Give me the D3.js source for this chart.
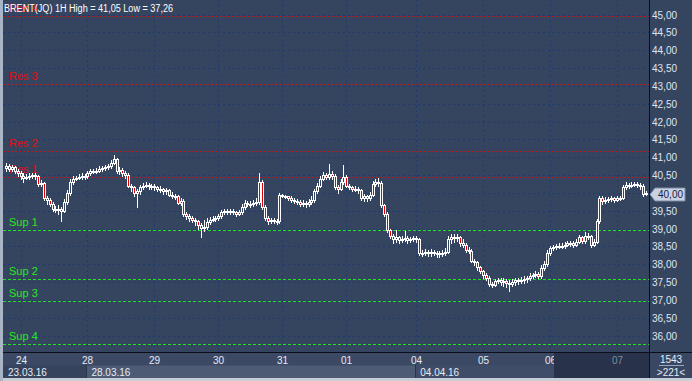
<!DOCTYPE html>
<html><head><meta charset="utf-8">
<script src="https://cdn.jsdelivr.net/npm/d3@7"></script>
<style>
html,body{margin:0;padding:0;background:#c8ced6;}
svg{display:block;}
text{font-family:"Liberation Sans",Arial,sans-serif;}
</style>
</head><body>
<svg id="c" width="692" height="381"></svg>
<script>
// ---- data (hourly candles, BRENT 1H) ----
const firstOpen = 40.70;
const closes = [
40.75,40.68,40.72,40.62,40.55,40.48,40.42,40.45,40.48,40.50,
40.46,40.25,40.28,39.85,39.80,39.70,39.55,39.52,39.55,39.48,
39.75,40.00,40.30,40.40,40.42,40.45,40.48,40.46,40.55,40.60,
40.62,40.62,40.68,40.70,40.72,40.74,40.85,40.95,40.60,40.65,
40.55,40.50,40.20,40.15,40.00,40.05,40.15,40.20,40.22,40.18,
40.20,40.15,40.12,40.10,40.05,40.08,39.95,39.92,39.90,39.72,
39.78,39.40,39.35,39.30,39.25,39.20,39.10,39.02,39.05,39.18,
39.25,39.28,39.30,39.35,39.45,39.50,39.48,39.50,39.45,39.42,
39.45,39.60,39.72,39.70,39.68,39.72,39.75,40.30,39.60,39.30,
39.20,39.25,39.22,39.20,39.95,39.92,39.90,39.85,39.80,39.78,
39.75,39.70,39.72,39.68,39.75,39.80,40.05,40.20,40.40,40.50,
40.45,40.52,40.48,40.15,40.12,40.30,40.45,40.20,40.15,40.12,
40.10,40.08,39.85,39.90,39.85,39.95,40.25,40.30,40.28,39.65,
39.40,38.95,38.80,38.70,38.75,38.68,38.70,38.72,38.68,38.70,
38.72,38.70,38.30,38.32,38.35,38.30,38.35,38.32,38.30,38.28,
38.32,38.35,38.70,38.75,38.72,38.75,38.60,38.55,38.40,38.38,
38.10,38.05,37.92,37.80,37.70,37.62,37.45,37.42,37.52,37.55,
37.50,37.52,37.48,37.45,37.50,37.55,37.52,37.55,37.58,37.60,
37.68,37.70,37.72,37.68,37.90,38.00,38.30,38.45,38.48,38.50,
38.52,38.50,38.55,38.58,38.60,38.55,38.62,38.75,38.65,38.80,
38.78,38.55,38.62,39.20,39.85,39.78,39.80,39.82,39.85,39.80,
39.85,39.86,40.15,40.22,40.20,40.22,40.25,40.22,40.20,39.98,
40.00];
const highs = [
40.85,40.80,40.78,40.75,40.68,40.60,40.55,40.52,40.55,40.56,
40.55,40.50,40.35,40.30,39.90,39.85,39.75,39.62,39.65,39.60,
39.82,40.08,40.38,40.48,40.48,40.52,40.55,40.52,40.60,40.66,
40.68,40.70,40.74,40.76,40.78,40.82,40.92,41.05,40.98,40.72,
40.70,40.60,40.55,40.25,40.20,40.12,40.22,40.28,40.30,40.28,
40.26,40.25,40.20,40.18,40.14,40.14,40.12,40.02,39.98,39.94,
39.86,39.82,39.46,39.42,39.36,39.30,39.25,39.15,39.25,39.30,
39.32,39.35,39.36,39.42,39.52,39.56,39.55,39.56,39.54,39.50,
39.52,39.68,39.80,39.78,39.76,39.80,39.85,40.55,40.35,39.65,
39.35,39.30,39.30,39.28,40.00,39.98,39.94,39.92,39.90,39.86,
39.84,39.80,39.80,39.76,39.82,39.90,40.12,40.28,40.48,40.58,
40.56,40.80,40.60,40.52,40.22,40.40,40.78,40.50,40.25,40.20,
40.18,40.15,40.12,39.96,39.95,40.02,40.32,40.38,40.42,40.32,
39.70,39.45,39.00,38.85,38.95,38.80,38.78,38.92,38.78,38.76,
38.80,38.78,38.74,38.40,38.42,38.40,38.42,38.40,38.38,38.36,
38.40,38.45,38.78,38.85,38.85,38.85,38.80,38.70,38.60,38.48,
38.42,38.15,38.10,37.96,37.85,37.75,37.66,37.50,37.58,37.62,
37.62,37.60,37.58,37.55,37.58,37.62,37.60,37.64,37.66,37.68,
37.76,37.76,37.80,37.78,37.98,38.08,38.40,38.52,38.55,38.56,
38.60,38.58,38.62,38.64,38.66,38.64,38.70,38.82,38.80,38.90,
38.88,38.82,38.70,39.28,39.92,39.90,39.88,39.88,39.90,39.88,
39.90,39.90,40.22,40.30,40.28,40.30,40.30,40.30,40.28,40.24,
40.06];
const lows = [
40.62,40.60,40.62,40.55,40.48,40.40,40.30,40.38,40.40,40.42,
40.40,40.20,40.18,39.80,39.70,39.62,39.48,39.45,39.42,39.21,
39.45,39.70,39.95,40.25,40.35,40.38,40.40,40.40,40.42,40.50,
40.55,40.56,40.58,40.62,40.65,40.66,40.70,40.80,40.55,40.52,
40.48,40.42,40.15,40.05,39.92,39.60,39.98,40.10,40.15,40.12,
40.12,40.08,40.05,40.02,39.98,39.98,39.90,39.85,39.84,39.68,
39.66,39.36,39.28,39.22,39.18,39.10,39.00,38.76,38.92,39.00,
39.12,39.20,39.22,39.25,39.30,39.40,39.42,39.42,39.40,39.36,
39.38,39.40,39.55,39.62,39.60,39.62,39.65,39.70,39.55,39.25,
39.12,39.15,39.15,39.12,39.15,39.88,39.86,39.80,39.75,39.72,
39.70,39.64,39.64,39.60,39.62,39.70,39.75,40.00,40.15,40.35,
40.40,40.40,40.40,40.10,40.00,40.08,40.25,40.15,40.10,40.05,
40.04,40.00,39.80,39.78,39.78,39.80,39.90,40.20,40.20,39.60,
39.35,38.90,38.72,38.60,38.62,38.60,38.62,38.64,38.60,38.62,
38.64,38.62,38.25,38.22,38.26,38.22,38.24,38.25,38.20,38.20,
38.22,38.26,38.30,38.60,38.62,38.65,38.52,38.48,38.35,38.30,
38.05,37.98,37.85,37.74,37.62,37.56,37.40,37.36,37.38,37.46,
37.42,37.40,37.35,37.26,37.38,37.42,37.45,37.46,37.48,37.50,
37.55,37.62,37.64,37.60,37.62,37.85,37.95,38.25,38.40,38.42,
38.45,38.44,38.46,38.50,38.52,38.48,38.50,38.58,38.60,38.60,
38.70,38.48,38.50,38.58,39.15,39.70,39.72,39.74,39.76,39.74,
39.76,39.80,39.82,40.10,40.14,40.15,40.18,40.16,40.12,39.92,
39.94];

const dayLabels = ["24","28","29","30","31","01","04","05","06","07"];
const dayBars   = [5,28,51,73,95,117,141,164,187,210];
const weekLabels = ["23.03.16","28.03.16","04.04.16"];
const weekBars   = [0,28,141];
const levelNames  = ["Res 4","Res 3","Res 2","Res 1","Sup 1","Sup 2","Sup 3","Sup 4"];
const levelValues = [44.96,43.06,41.16,40.44,38.95,37.58,36.97,35.75];
const priceTicks = d3.range(36, 45.001, 0.5);
const titleText = "BRENT(JQ) 1H High = 41,05 Low = 37,26";
const barCountText = ["1543", ">221<"];

// ---- layout ----
const svg = d3.select("#c");
const plotL = 3, plotR = 649, plotB = 352, axisB = 378;
const BG = "#35445f";
const fmt = v => v.toFixed(2).replace(".", ",");

const n = closes.length;
const opens = closes.map((c, i) => i === 0 ? firstOpen : closes[i - 1]);
const x = d3.scaleBand().domain(d3.range(n)).range([5, 648]).paddingInner(0);
const cx = i => x(i) + x.bandwidth() / 2;
const y = d3.scaleLinear().domain([36, 45]).range([335.5, 14.5]);

// backgrounds
svg.append("rect").attr("x", 0).attr("y", 0).attr("width", 692).attr("height", 381).attr("fill", "#c8ced6");
svg.append("rect").attr("x", 0).attr("y", 0).attr("width", 3).attr("height", 381).attr("fill", "#a9b4c4");
svg.append("rect").attr("x", plotL).attr("y", 0).attr("width", 692 - plotL).attr("height", plotB).attr("fill", BG);

// bottom axis area
svg.append("rect").attr("x", plotL).attr("y", plotB).attr("width", plotR - plotL).attr("height", axisB - plotB).attr("fill", "#3c4965");
const darkStart = x(188) + 2;
const weekEnds = weekBars.slice(1).map(b => x(b)).concat([darkStart]);
const weekFill = ["#36435d", "#4e5b75", "#404d68"];
weekBars.forEach((b, k) => {
  const x0 = k === 0 ? plotL : x(b);
  svg.append("rect").attr("x", x0).attr("y", 365.5).attr("width", weekEnds[k] - x0).attr("height", axisB - 365.5).attr("fill", weekFill[k]);
  if (k > 0) svg.append("line").attr("x1", Math.round(x0) + 0.5).attr("x2", Math.round(x0) + 0.5).attr("y1", 365).attr("y2", axisB).attr("stroke", "#2a3449");
});
// right-bottom box
svg.append("rect").attr("x", plotR + 1).attr("y", plotB).attr("width", 692 - plotR - 1).attr("height", axisB - plotB).attr("fill", "#3a4762");

// grid
const grid = svg.append("g").attr("shape-rendering", "crispEdges");
grid.selectAll("line.h").data(priceTicks).join("line")
  .attr("x1", plotL).attr("x2", plotR).attr("y1", d => Math.round(y(d)) + 0.5).attr("y2", d => Math.round(y(d)) + 0.5)
  .attr("stroke", "#1f3a6e").attr("stroke-dasharray", "2,3");
grid.selectAll("line.v").data(dayBars).join("line")
  .attr("x1", d => Math.floor(cx(d)) + 0.5).attr("x2", d => Math.floor(cx(d)) + 0.5).attr("y1", 0).attr("y2", plotB)
  .attr("stroke", "#1f3a6e").attr("stroke-dasharray", "2,3");

// levels
const lev = svg.append("g");
levelNames.forEach((name, k) => {
  const isRes = name.startsWith("Res");
  const col = isRes ? "#c81414" : "#1ee61e";
  const yy = Math.round(y(levelValues[k])) + 0.5;
  lev.append("line").attr("x1", plotL).attr("x2", plotR).attr("y1", yy).attr("y2", yy)
    .attr("stroke", col).attr("stroke-dasharray", isRes ? "2,2" : "3,2").attr("shape-rendering", "crispEdges");
  lev.append("text").attr("x", 9).attr("y", yy - 5).attr("fill", isRes ? "#e01010" : "#22ea22").attr("font-size", 11).text(name);
});

// candles
const cg = svg.append("g").attr("shape-rendering", "crispEdges");
d3.range(n).forEach(i => {
  const px = Math.floor(cx(i));
  const o = opens[i], c = closes[i];
  const up = c >= o;
  cg.append("line").attr("x1", px + 0.5).attr("x2", px + 0.5)
    .attr("y1", Math.round(y(highs[i]))).attr("y2", Math.round(y(lows[i])) + 1)
    .attr("stroke", "#ffffff");
  const top = Math.round(y(Math.max(o, c))), bot = Math.round(y(Math.min(o, c)));
  cg.append("rect").attr("x", px - 0.5).attr("y", top + 0.5).attr("width", 2).attr("height", Math.max(1, bot - top))
    .attr("fill", up ? BG : "#e00000").attr("stroke", "#ffffff");
});

// frame lines
svg.append("line").attr("x1", plotR + 0.5).attr("x2", plotR + 0.5).attr("y1", 0).attr("y2", axisB).attr("stroke", "#0a0f1a");
svg.append("line").attr("x1", plotL).attr("x2", 692).attr("y1", plotB + 0.5).attr("y2", plotB + 0.5).attr("stroke", "#0a0f1a");

// right axis
const ax = svg.append("g").attr("transform", `translate(${plotR + 1},0)`)
  .call(d3.axisRight(y).tickValues(priceTicks.filter(v => v !== 40)).tickFormat(fmt).tickSize(0).tickPadding(2));
ax.select(".domain").remove();
ax.selectAll("text").attr("fill", "#dfe6f2").attr("font-size", 10).attr("font-family", "Liberation Sans, Arial, sans-serif").attr("dy", "0.35em");

// last price marker
const lastY = Math.round(y(closes[n - 1])) + 1.5;
svg.append("path")
  .attr("d", `M${plotR + 1},${lastY} L${plotR + 6},${lastY - 6.5} L${plotR + 36},${lastY - 6.5} L${plotR + 36},${lastY + 6.5} L${plotR + 6},${lastY + 6.5} Z`)
  .attr("fill", "#c9d2e4").attr("stroke", "#7c88a0");
svg.append("text").attr("x", plotR + 9).attr("y", lastY + 3.5).attr("fill", "#17233d").attr("font-size", 10).text(fmt(closes[n - 1]));

// day labels
svg.selectAll("text.day").data(dayLabels).join("text")
  .attr("x", (d, k) => Math.floor(cx(dayBars[k])) + 0.5).attr("y", 364).attr("text-anchor", "middle")
  .attr("font-size", 10).attr("fill", "#e6ebf4").text(d => d);
// week labels
svg.selectAll("text.wk").data(weekLabels).join("text")
  .attr("x", (d, k) => (k === 0 ? plotL : x(weekBars[k])) + 5).attr("y", 376)
  .attr("font-size", 10).attr("fill", "#e6ebf4").text(d => d);
// dark overview region on the right of the time axis
svg.append("rect").attr("x", darkStart).attr("y", plotB + 1).attr("width", plotR - darkStart).attr("height", axisB - plotB - 1).attr("fill", "#28324a");
svg.append("text").attr("x", Math.floor(cx(dayBars[9])) + 0.5).attr("y", 364).attr("text-anchor", "middle")
  .attr("font-size", 10).attr("fill", "#7f8ba3").text(dayLabels[9]);

// bar counts
svg.append("text").attr("x", 671).attr("y", 363).attr("text-anchor", "middle").attr("font-size", 10).attr("fill", "#e6ebf4").text(barCountText[0]);
svg.append("line").attr("x1", 659).attr("x2", 684).attr("y1", 365.5).attr("y2", 365.5).attr("stroke", "#9aa6bb");
svg.append("text").attr("x", 671).attr("y", 376).attr("text-anchor", "middle").attr("font-size", 10).attr("fill", "#e6ebf4").text(barCountText[1]);

// title (drawn over the Res 4 label, as in the original)
svg.append("text").attr("x", 4).attr("y", 11.5).attr("font-size", 10).attr("fill", "#ffffff")
  .attr("textLength", 169).attr("lengthAdjust", "spacingAndGlyphs").text(titleText);
</script>
</body></html>
